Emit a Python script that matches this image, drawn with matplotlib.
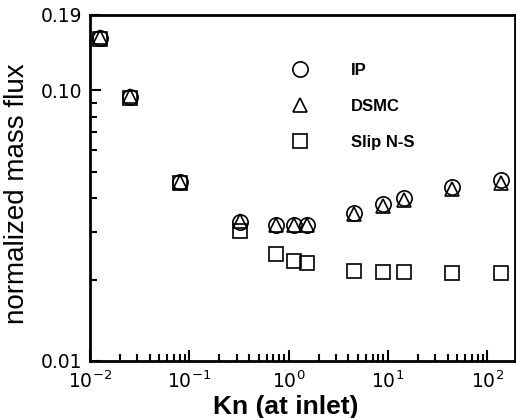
"""
Normalized mass flux vs inlet Knudsen number: IP, DSMC and slip N-S.
Log-log scatter, open black markers, saved as out.png (516x418).
"""
import matplotlib
matplotlib.use("Agg")
import matplotlib.pyplot as plt
from matplotlib.ticker import FixedLocator, FixedFormatter, LogLocator, NullFormatter

plt.rcParams["font.family"] = ["Liberation Sans", "DejaVu Sans"]

# values
kn = [0.0126, 0.0253, 0.081, 0.327, 0.74, 1.13, 1.52, 4.54, 8.9, 14.5, 44.3, 138.0]
flux_ip = [0.156, 0.0946, 0.0459, 0.0326, 0.0318, 0.0318, 0.0318, 0.0352, 0.0380, 0.0400, 0.0440, 0.0467]
flux_dsmc = [0.157, 0.0950, 0.0460, 0.0328, 0.0318, 0.0317, 0.0317, 0.0350, 0.0375, 0.0392, 0.0432, 0.0455]
flux_slip = [0.155, 0.0940, 0.0455, 0.0302, 0.0248, 0.0234, 0.0230, 0.0215, 0.0213, 0.0213, 0.0211, 0.0211]

y_ticks = [0.01, 0.10, 0.19]
y_ticklabels = ["0.01", "0.10", "0.19"]
x_ticks = [1e-2, 1e-1, 1e0, 1e1, 1e2]
x_ticklabels = [r"$\mathregular{10^{-2}}$", r"$\mathregular{10^{-1}}$", r"$\mathregular{10^{0}}$",
                r"$\mathregular{10^{1}}$", r"$\mathregular{10^{2}}$"]

fig = plt.figure(figsize=(5.16, 4.18), dpi=100)
ax = fig.add_axes([90 / 516, 1 - 361 / 418, 425 / 516, 346 / 418])

mk = dict(linestyle="none", markerfacecolor="none", markeredgecolor="black", markeredgewidth=1.2)
ax.plot(kn, flux_ip, marker="o", markersize=11, label="IP", **mk)
ax.plot(kn, flux_dsmc, marker="^", markersize=10, label="DSMC", **mk)
ax.plot(kn, flux_slip, marker="s", markersize=9.5, label="Slip N-S", **mk)

ax.set_xscale("log")
ax.set_yscale("log")
ax.set_xlim(0.01, 190)
ax.set_ylim(0.01, 0.19)

ax.xaxis.set_major_locator(FixedLocator(x_ticks))
ax.xaxis.set_major_formatter(FixedFormatter(x_ticklabels))
ax.xaxis.set_minor_locator(LogLocator(base=10, subs=range(2, 10), numticks=20))
ax.xaxis.set_minor_formatter(NullFormatter())
ax.yaxis.set_major_locator(FixedLocator(y_ticks))
ax.yaxis.set_major_formatter(FixedFormatter(y_ticklabels))
ax.yaxis.set_minor_locator(LogLocator(base=10, subs=range(2, 10), numticks=20))
ax.yaxis.set_minor_formatter(NullFormatter())

ax.tick_params(which="both", direction="in", top=False, right=False, width=1.5)
ax.tick_params(which="major", length=8)
ax.tick_params(which="minor", length=5)
ax.tick_params(axis="x", which="major", pad=6.5)
ax.tick_params(axis="y", which="major", pad=5.5)
for lab in ax.get_xticklabels() + ax.get_yticklabels():
    lab.set_family("DejaVu Sans")
    lab.set_fontsize(13.5)
for s in ax.spines.values():
    s.set_linewidth(2)

ax.set_xlabel("Kn (at inlet)", fontsize=19, fontweight="bold")
ax.xaxis.set_label_coords(0.461, -0.097)
ax.set_ylabel("normalized mass flux", fontsize=20, va="center")
ax.yaxis.set_label_coords(-0.172, 0.483)

ax.legend(loc="upper left", bbox_to_anchor=(283 / 516, 1 - 63 / 418), bbox_transform=fig.transFigure,
          frameon=False, borderpad=0, borderaxespad=0, handlelength=2, handletextpad=2.1,
          labelspacing=1.25, prop=dict(size=12, weight="bold"))

fig.savefig("out.png", dpi=100)
